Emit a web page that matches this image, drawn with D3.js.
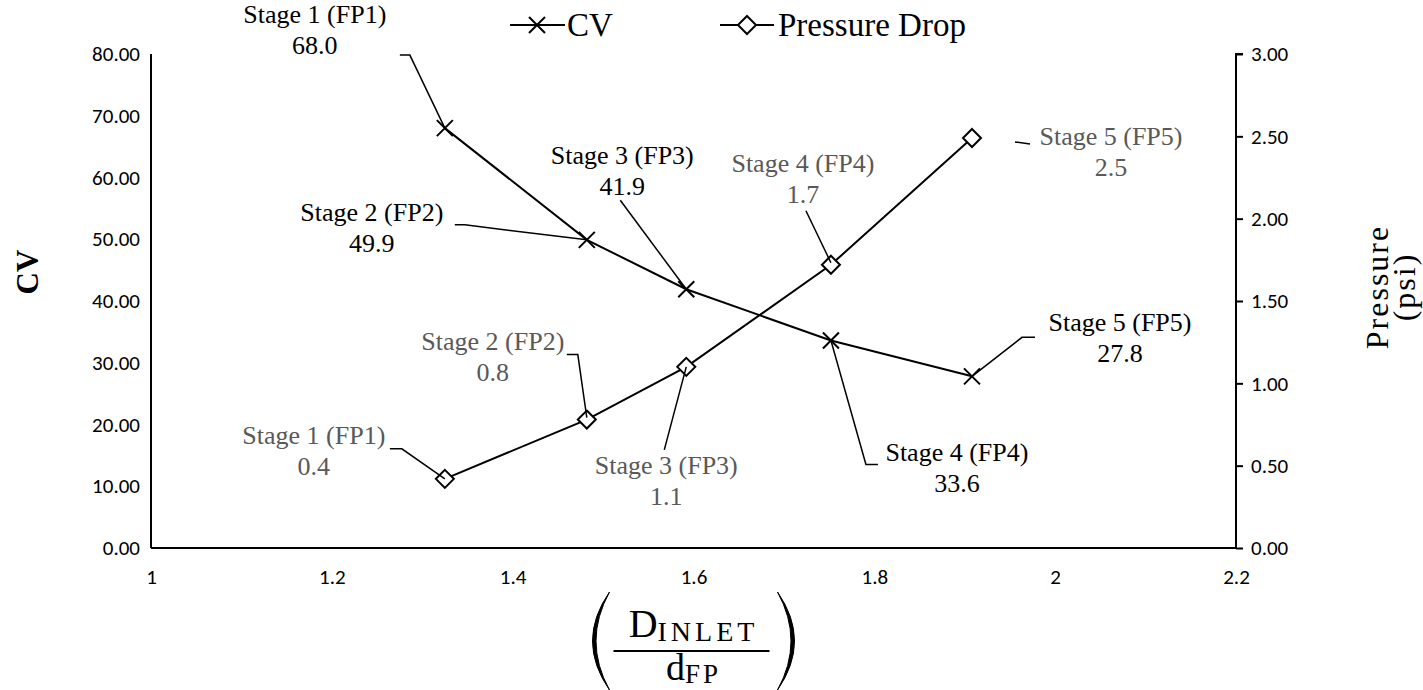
<!DOCTYPE html>
<html><head><meta charset="utf-8">
<script src="https://cdn.jsdelivr.net/npm/d3@7"></script>
<style>body{margin:0;background:#fff}svg{display:block}</style>
</head><body>
<svg id="c" width="1423" height="690"></svg>
<script>
// ---- data ----
const stages = ["Stage 1 (FP1)","Stage 2 (FP2)","Stage 3 (FP3)","Stage 4 (FP4)","Stage 5 (FP5)"];
const ratio = [1.325, 1.482, 1.592, 1.752, 1.908];
const cv = [68.0, 49.9, 41.9, 33.6, 27.8];
const pressure = [0.42, 0.78, 1.10, 1.72, 2.49];
const cvLabels = ["68.0","49.9","41.9","33.6","27.8"];
const pLabels = ["0.4","0.8","1.1","1.7","2.5"];
const xTicks = [1, 1.2, 1.4, 1.6, 1.8, 2, 2.2];
const yLeftTicks = [0,10,20,30,40,50,60,70,80];
const yRightTicks = [0,0.5,1,1.5,2,2.5,3];

// ---- layout (label offsets in px relative to the point) ----
const cvLayout = [
  {tx:-130, ty:-114, lead:[[-45,-73],[-35,-73],[0,0]]},
  {tx:-215, ty:-28, lead:[[-132,-15],[-122,-15],[0,0]]},
  {tx:-64, ty:-134, lead:[[-66,-89],[0,0]]},
  {tx:126, ty:111, lead:[[0,0],[35,124],[47,124]]},
  {tx:148, ty:-54, lead:[[0,0],[50,-39],[63,-39]]}
];
const pLayout = [
  {tx:-131, ty:-44, lead:[[-55,-30],[-43,-30],[0,0]]},
  {tx:-94, ty:-79, lead:[[-20,-65],[-9,-65],[0,-2]]},
  {tx:-20, ty:98, lead:[[-22,83],[0,0]]},
  {tx:-28, ty:-102, lead:[[-25,-54],[0,-2]]},
  {tx:139, ty:-2, lead:[[43,4],[58,6]]}
];

const svg = d3.select("#c");
const L = 151, R = 1236, T = 54, B = 548;
const x = d3.scaleLinear().domain([1, 2.2]).range([L, R]);
const yL = d3.scaleLinear().domain([0, 80]).range([B, T]);
const yR = d3.scaleLinear().domain([0, 3]).range([B, T]);
const tickFont = "Carlito, Lato, 'Open Sans', sans-serif";
const serif = "'Liberation Serif', 'Times New Roman', serif";

// axes
const gL = svg.append("g").attr("transform", `translate(${L},0)`)
  .call(d3.axisLeft(yL).tickValues(yLeftTicks).tickSize(0).tickPadding(11).tickFormat(d3.format(".2f")));
const gR = svg.append("g").attr("transform", `translate(${R},0)`)
  .call(d3.axisRight(yR).tickValues(yRightTicks).tickSize(7).tickPadding(8).tickFormat(d3.format(".2f")));
const gB = svg.append("g").attr("transform", `translate(0,${B})`)
  .call(d3.axisBottom(x).tickValues(xTicks).tickSize(0).tickPadding(21).tickFormat(d => String(+d.toFixed(1))));
[gL, gR, gB].forEach(g => {
  g.select(".domain").attr("stroke", "#000").attr("stroke-width", 2);
  g.selectAll(".tick line").attr("stroke", "#000").attr("stroke-width", 2);
  g.selectAll("text").attr("font-family", tickFont).attr("font-size", 21).attr("fill", "#000");
});
gR.select(".domain").attr("d", `M7,${T}H0V${B}H0`);
gL.select(".domain").attr("d", `M0,${T}V${B}`);
gB.select(".domain").attr("d", `M${L},0H${R}`);

// lines
const lineCV = d3.line().x((d,i) => x(ratio[i])).y(d => yL(d));
const lineP = d3.line().x((d,i) => x(ratio[i])).y(d => yR(d));
svg.append("path").attr("d", lineCV(cv)).attr("fill", "none").attr("stroke", "#000").attr("stroke-width", 2);
svg.append("path").attr("d", lineP(pressure)).attr("fill", "none").attr("stroke", "#000").attr("stroke-width", 2);

const crossD = "M-8,-8L8,8M-8,8L8,-8";
const diamond = "M0,-9L9,0L0,9L-9,0Z";
cv.forEach((v,i) => {
  svg.append("path").attr("d", crossD).attr("transform", `translate(${x(ratio[i])},${yL(v)})`)
    .attr("stroke", "#000").attr("stroke-width", 2).attr("fill", "none");
});
pressure.forEach((v,i) => {
  svg.append("path").attr("d", diamond).attr("transform", `translate(${x(ratio[i])},${yR(v)})`)
    .attr("stroke", "#000").attr("stroke-width", 2).attr("fill", "#fff");
});

// labels
function label(px, py, lay, name, val, color) {
  const g = svg.append("g");
  g.append("path").attr("d", d3.line()(lay.lead.map(p => [px + p[0], py + p[1]])))
    .attr("fill", "none").attr("stroke", "#000").attr("stroke-width", 1.5);
  const t = g.append("text").attr("font-family", serif).attr("font-size", 26).attr("fill", color)
    .attr("text-anchor", "middle");
  t.append("tspan").attr("x", px + lay.tx).attr("y", py + lay.ty + 9).text(name);
  t.append("tspan").attr("x", px + lay.tx).attr("y", py + lay.ty + 40).text(val);
}
cv.forEach((v,i) => label(x(ratio[i]), yL(v), cvLayout[i], stages[i], cvLabels[i], "#000"));
pressure.forEach((v,i) => label(x(ratio[i]), yR(v), pLayout[i], stages[i], pLabels[i], "#595959"));

// legend
const lg = svg.append("g");
lg.append("line").attr("x1", 510).attr("x2", 565).attr("y1", 25).attr("y2", 25).attr("stroke", "#000").attr("stroke-width", 2);
lg.append("path").attr("d", crossD).attr("transform", "translate(537,25)").attr("stroke", "#000").attr("stroke-width", 2);
lg.append("text").attr("x", 567).attr("y", 36).attr("font-family", serif).attr("font-size", 33).text("CV");
lg.append("line").attr("x1", 720).attr("x2", 774).attr("y1", 25).attr("y2", 25).attr("stroke", "#000").attr("stroke-width", 2);
lg.append("path").attr("d", diamond).attr("transform", "translate(747,25)").attr("stroke", "#000").attr("stroke-width", 2).attr("fill", "#fff");
lg.append("text").attr("x", 778).attr("y", 36).attr("font-family", serif).attr("font-size", 33).text("Pressure Drop");

// axis titles
svg.append("text").attr("transform", "translate(38,272) rotate(-90)").attr("text-anchor", "middle")
  .attr("font-family", serif).attr("font-size", 31).attr("font-weight", "bold").text("CV");
const rt = svg.append("text").attr("transform", "translate(1388,287) rotate(-90)").attr("text-anchor", "middle")
  .attr("font-family", serif).attr("font-size", 32).attr("letter-spacing", 2);
rt.append("tspan").attr("x", 0).attr("y", 0).text("Pressure");
rt.append("tspan").attr("x", 0).attr("y", 27).text("(psi)");

// x title (fraction)
const cx = (L + R) / 2;
const xt = svg.append("g");
const num = xt.append("text").attr("x", cx).attr("y", 637).attr("text-anchor", "middle").attr("font-family", serif);
num.append("tspan").attr("font-size", 40).text("D");
num.append("tspan").attr("font-size", 28).attr("letter-spacing", 4).attr("dy", 4).text("INLET");
const den = xt.append("text").attr("x", cx).attr("y", 680).attr("text-anchor", "middle").attr("font-family", serif);
den.append("tspan").attr("font-size", 38).text("d");
den.append("tspan").attr("font-size", 27).attr("letter-spacing", 3).attr("dy", 3).text("FP");
xt.append("line").attr("x1", cx - 80).attr("x2", cx + 76).attr("y1", 651).attr("y2", 651).attr("stroke", "#000").attr("stroke-width", 2);
const lp = cx - 84, rp = cx + 84;
xt.append("path").attr("d", `M${lp},592Q${lp-34},641 ${lp},690Q${lp-27},641 ${lp},592Z`).attr("fill", "#000").attr("stroke", "#000").attr("stroke-width", 1);
xt.append("path").attr("d", `M${rp},592Q${rp+34},641 ${rp},690Q${rp+27},641 ${rp},592Z`).attr("fill", "#000").attr("stroke", "#000").attr("stroke-width", 1);
</script>
</body></html>
